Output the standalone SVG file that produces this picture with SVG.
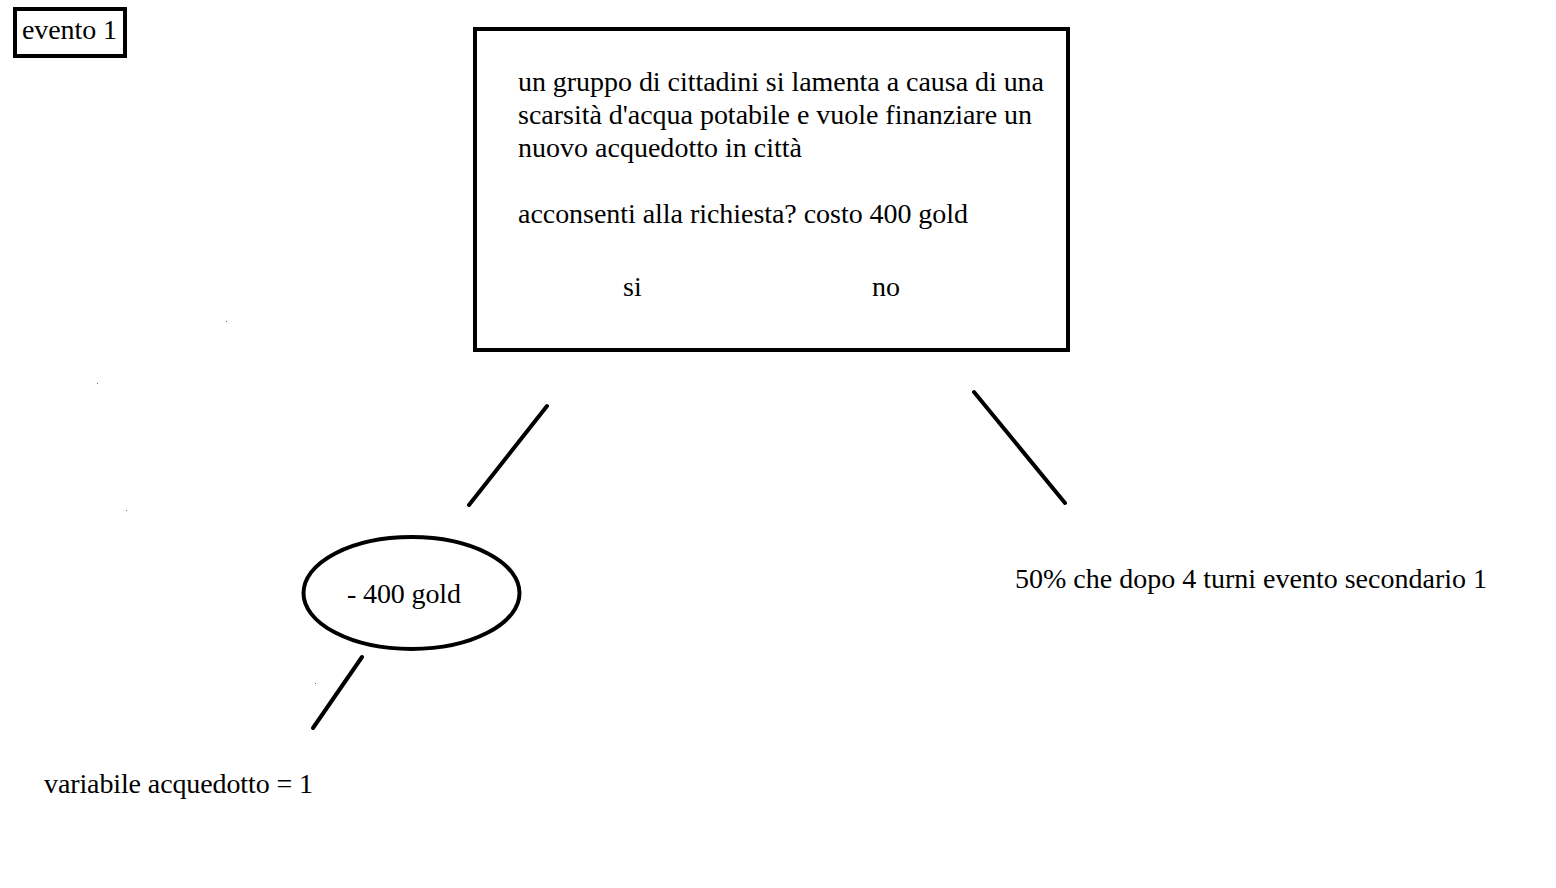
<svg xmlns="http://www.w3.org/2000/svg" width="1556" height="888" viewBox="0 0 1556 888">
<style>
.t{font-family:"Liberation Serif","Times New Roman",serif;font-size:28px;fill:#000}
.box{fill:#fff;stroke:#000;stroke-width:4}
.ln{stroke:#000;stroke-width:4;stroke-linecap:round;fill:none}
.dot{fill:#666}
</style>
<rect width="1556" height="888" fill="#fff"/>
<g id="evento1">
<rect class="box" x="15" y="9" width="110" height="47"/>
<text class="t" x="22" y="39" textLength="95" lengthAdjust="spacing">evento 1</text>
</g>
<g id="domanda">
<rect class="box" x="475" y="29" width="593" height="321"/>
<text class="t" x="518" y="91" textLength="526" lengthAdjust="spacing">un gruppo di cittadini si lamenta a causa di una</text>
<text class="t" x="518" y="124" textLength="514" lengthAdjust="spacing">scarsità d'acqua potabile e vuole finanziare un</text>
<text class="t" x="518" y="157" textLength="284" lengthAdjust="spacing">nuovo acquedotto in città</text>
<text class="t" x="518" y="223" textLength="450" lengthAdjust="spacing">acconsenti alla richiesta? costo 400 gold</text>
<text class="t" x="623" y="296">si</text>
<text class="t" x="872" y="296">no</text>
</g>
<g id="costo">
<ellipse class="box" cx="411.5" cy="593" rx="108" ry="56"/>
<text class="t" x="347" y="603" textLength="114" lengthAdjust="spacing">- 400 gold</text>
</g>
<g id="variabile">
<text class="t" x="44" y="793" textLength="269" lengthAdjust="spacing">variabile acquedotto = 1</text>
</g>
<g id="evento-secondario">
<text class="t" x="1015" y="588" textLength="472" lengthAdjust="spacing">50% che dopo 4 turni evento secondario 1</text>
</g>
<g id="connectors">
<line class="ln" x1="547" y1="406" x2="469" y2="505"/>
<line class="ln" x1="974" y1="392" x2="1065" y2="503"/>
<line class="ln" x1="362" y1="657" x2="313" y2="728"/>
</g>
<g id="specks">
<rect class="dot" x="226" y="321" width="1" height="1"/>
<rect class="dot" x="97" y="383" width="1" height="1"/>
<rect class="dot" x="126" y="510" width="1" height="1"/>
<rect class="dot" x="315" y="683" width="1" height="1"/>
</g>
</svg>
